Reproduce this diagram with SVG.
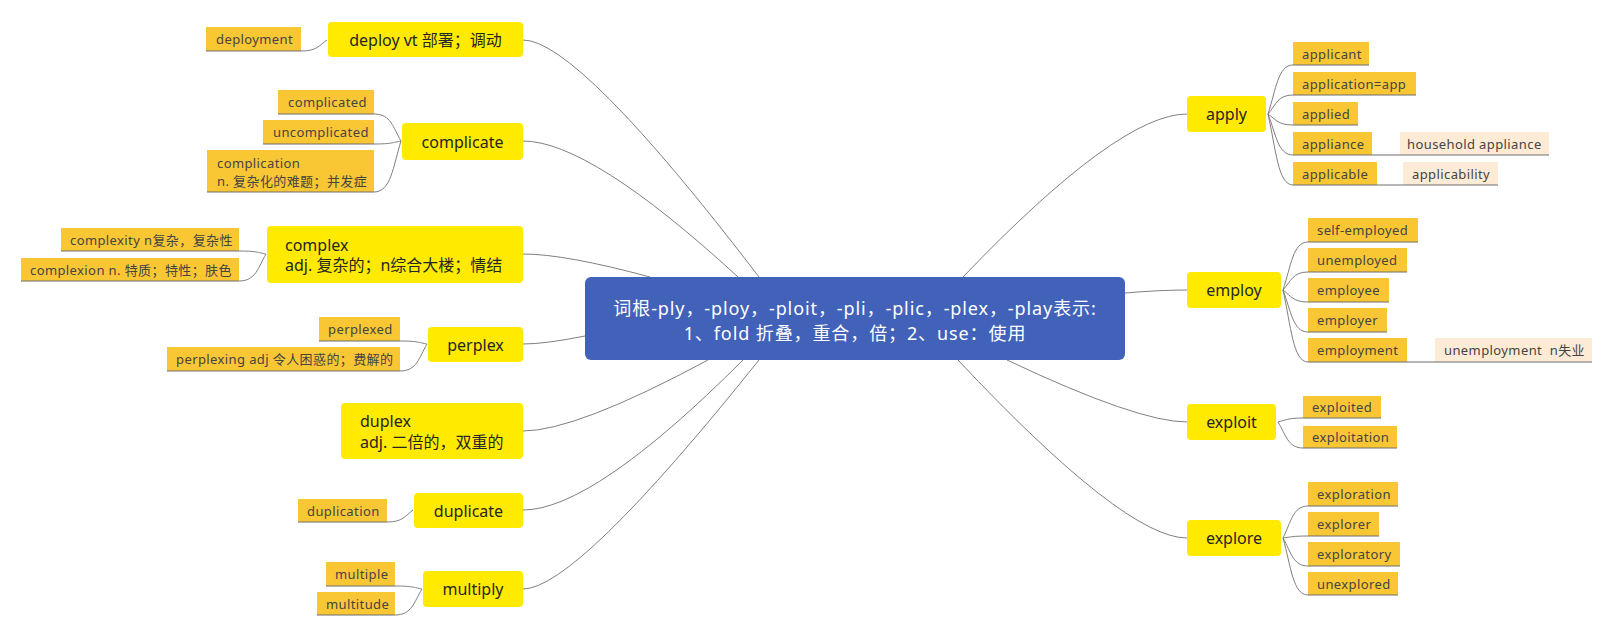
<svg xmlns="http://www.w3.org/2000/svg" width="1612" height="637" viewBox="0 0 1612 637">
<style>
.bg{fill:#ffffff}
.cn{fill:none;stroke:#808080;stroke-width:1}
.ul{stroke:#6e6e6e;stroke-width:1.2}
.main{fill:#FFEA00}
.sub{fill:#F9C734}
.gc{fill:#FDEBD6}
.ctr{fill:#4262BA}
.tm{font-family:"Noto Sans","Noto Sans CJK SC",sans-serif;font-size:16px;fill:#262626;dominant-baseline:central}
.ts{font-family:"Noto Sans","Noto Sans CJK SC",sans-serif;font-size:13px;fill:#444;letter-spacing:0.4px;dominant-baseline:central}
.tc{font-family:"Noto Sans","Noto Sans CJK SC",sans-serif;font-size:18px;fill:#ffffff;letter-spacing:0.9px;dominant-baseline:central;text-anchor:middle}
.mid{text-anchor:middle}
</style>
<rect class="bg" x="0" y="0" width="1612" height="637"/>
<g id="connectors">
<path class="cn" d="M759,277 Q578,40 523,40"/>
<path class="cn" d="M738,277 Q590,141 523,141"/>
<path class="cn" d="M650,277 Q565,254 523,254"/>
<path class="cn" d="M585,336 Q545,344 523,344"/>
<path class="cn" d="M708,360 Q576,431 523,431"/>
<path class="cn" d="M743,360 Q593,510 523,510"/>
<path class="cn" d="M759,360 Q576,589 523,589"/>
<path class="cn" d="M963,277 Q1119,114 1187,114"/>
<path class="cn" d="M1125,293 Q1160,290 1187,290"/>
<path class="cn" d="M1007,360 Q1138,422 1187,422"/>
<path class="cn" d="M958,360 Q1125,538 1187,538"/>
<path class="cn" d="M1268,114 C1276,89.5 1278,65 1293,65"/>
<path class="cn" d="M1268,114 C1276,104.5 1278,95 1293,95"/>
<path class="cn" d="M1268,114 C1276,119.5 1278,125 1293,125"/>
<path class="cn" d="M1268,114 C1276,134.5 1278,155 1293,155"/>
<path class="cn" d="M1268,114 C1276,149.5 1278,185 1293,185"/>
<path class="cn" d="M1283,290 C1291,266 1293,242 1308,242"/>
<path class="cn" d="M1283,290 C1291,281 1293,272 1308,272"/>
<path class="cn" d="M1283,290 C1291,296 1293,302 1308,302"/>
<path class="cn" d="M1283,290 C1291,311 1293,332 1308,332"/>
<path class="cn" d="M1283,290 C1291,326 1293,362 1308,362"/>
<path class="cn" d="M1278,422 C1286,420 1288,418 1303,418"/>
<path class="cn" d="M1278,422 C1286,435 1288,448 1303,448"/>
<path class="cn" d="M1283,538 C1291,522 1293,506 1308,506"/>
<path class="cn" d="M1283,538 C1291,537 1293,536 1308,536"/>
<path class="cn" d="M1283,538 C1291,552 1293,566 1308,566"/>
<path class="cn" d="M1283,538 C1291,566.5 1293,595 1308,595"/>
<path class="cn" d="M327,40 C319,45.5 317,51 301,51"/>
<path class="cn" d="M401,141 C393,127.5 391,114 374,114"/>
<path class="cn" d="M401,141 C393,142.5 391,144 374,144"/>
<path class="cn" d="M401,141 C393,166.5 391,192 374,192"/>
<path class="cn" d="M266,254 C258,252.5 256,251 239,251"/>
<path class="cn" d="M266,254 C258,267.5 256,281 239,281"/>
<path class="cn" d="M427,344 C419,342.5 417,341 400,341"/>
<path class="cn" d="M427,344 C419,357.5 417,371 400,371"/>
<path class="cn" d="M413,510 C405,516 403,522 387,522"/>
<path class="cn" d="M422,589 C414,587.5 412,586 395,586"/>
<path class="cn" d="M422,589 C414,602 412,615 395,615"/>
</g>
<g id="center">
<rect class="ctr" x="585" y="277" width="540" height="83" rx="6"/>
<text class="tc" x="855" y="308">词根-ply，-ploy，-ploit，-pli，-plic，-plex，-play表示:</text>
<text class="tc" x="855" y="333">1、fold 折叠，重合，倍；2、use：使用</text>
</g>
<g id="deploy">
<rect class="main" x="328" y="22" width="195" height="35" rx="4"/>
<text class="tm mid" x="425.5" y="39.5">deploy vt 部署；调动</text>
</g>
<g id="deployment">
<rect class="sub" x="206" y="27" width="95" height="24"/>
<line class="ul" x1="206" y1="51" x2="301" y2="51"/>
<text class="ts" x="216" y="39">deployment</text>
</g>
<g id="complicate">
<rect class="main" x="402" y="123" width="121" height="37" rx="4"/>
<text class="tm mid" x="462.5" y="141.5">complicate</text>
</g>
<g id="complicated">
<rect class="sub" x="278" y="90" width="96" height="24"/>
<line class="ul" x1="278" y1="114" x2="374" y2="114"/>
<text class="ts" x="288" y="102">complicated</text>
</g>
<g id="uncomplicated">
<rect class="sub" x="263" y="120" width="111" height="24"/>
<line class="ul" x1="263" y1="144" x2="374" y2="144"/>
<text class="ts" x="273" y="132">uncomplicated</text>
</g>
<g id="complication">
<rect class="sub" x="207" y="150" width="167" height="42"/>
<line class="ul" x1="207" y1="192" x2="374" y2="192"/>
<text class="ts" x="217" y="163">complication</text>
<text class="ts" x="217" y="181">n. 复杂化的难题；并发症</text>
</g>
<g id="complex">
<rect class="main" x="267" y="226" width="256" height="57" rx="4"/>
<text class="tm" x="285" y="245">complex</text>
<text class="tm" x="285" y="265">adj. 复杂的；n综合大楼；情结</text>
</g>
<g id="complexity">
<rect class="sub" x="61" y="228" width="178" height="23"/>
<line class="ul" x1="61" y1="251" x2="239" y2="251"/>
<text class="ts" x="70" y="239.5">complexity n复杂，复杂性</text>
</g>
<g id="complexion">
<rect class="sub" x="21" y="258" width="218" height="23"/>
<line class="ul" x1="21" y1="281" x2="239" y2="281"/>
<text class="ts" x="30" y="269.5">complexion n. 特质；特性；肤色</text>
</g>
<g id="perplex">
<rect class="main" x="428" y="327" width="95" height="35" rx="4"/>
<text class="tm mid" x="475.5" y="344.5">perplex</text>
</g>
<g id="perplexed">
<rect class="sub" x="319" y="317" width="81" height="24"/>
<line class="ul" x1="319" y1="341" x2="400" y2="341"/>
<text class="ts" x="328" y="329">perplexed</text>
</g>
<g id="perplexing">
<rect class="sub" x="167" y="347" width="233" height="24"/>
<line class="ul" x1="167" y1="371" x2="400" y2="371"/>
<text class="ts" x="176" y="359">perplexing adj 令人困惑的；费解的</text>
</g>
<g id="duplex">
<rect class="main" x="341" y="403" width="182" height="56" rx="4"/>
<text class="tm" x="360" y="421">duplex</text>
<text class="tm" x="360" y="442">adj. 二倍的，双重的</text>
</g>
<g id="duplicate">
<rect class="main" x="414" y="493" width="109" height="35" rx="4"/>
<text class="tm mid" x="468.5" y="510.5">duplicate</text>
</g>
<g id="duplication">
<rect class="sub" x="298" y="499" width="89" height="23"/>
<line class="ul" x1="298" y1="522" x2="387" y2="522"/>
<text class="ts" x="307" y="510.5">duplication</text>
</g>
<g id="multiply">
<rect class="main" x="423" y="571" width="100" height="36" rx="4"/>
<text class="tm mid" x="473" y="589">multiply</text>
</g>
<g id="multiple">
<rect class="sub" x="326" y="562" width="69" height="24"/>
<line class="ul" x1="326" y1="586" x2="395" y2="586"/>
<text class="ts" x="335" y="574">multiple</text>
</g>
<g id="multitude">
<rect class="sub" x="317" y="592" width="78" height="23"/>
<line class="ul" x1="317" y1="615" x2="395" y2="615"/>
<text class="ts" x="326" y="603.5">multitude</text>
</g>
<g id="apply">
<rect class="main" x="1187" y="96" width="79" height="36" rx="4"/>
<text class="tm mid" x="1226.5" y="114">apply</text>
</g>
<g id="applicant">
<rect class="sub" x="1293" y="42" width="76" height="23"/>
<line class="ul" x1="1293" y1="65" x2="1369" y2="65"/>
<text class="ts" x="1302" y="53.5">applicant</text>
</g>
<g id="application">
<rect class="sub" x="1293" y="72" width="123" height="23"/>
<line class="ul" x1="1293" y1="95" x2="1416" y2="95"/>
<text class="ts" x="1302" y="83.5">application=app</text>
</g>
<g id="applied">
<rect class="sub" x="1293" y="102" width="65" height="23"/>
<line class="ul" x1="1293" y1="125" x2="1358" y2="125"/>
<text class="ts" x="1302" y="113.5">applied</text>
</g>
<g id="appliance">
<rect class="sub" x="1293" y="132" width="79" height="23"/>
<rect class="gc" x="1400" y="132" width="149" height="23"/>
<line class="ul" x1="1293" y1="155" x2="1549" y2="155"/>
<text class="ts" x="1302" y="143.5">appliance</text>
<text class="ts" x="1407" y="143.5">household appliance</text>
</g>
<g id="applicable">
<rect class="sub" x="1293" y="162" width="84" height="23"/>
<rect class="gc" x="1403" y="162" width="95" height="23"/>
<line class="ul" x1="1293" y1="185" x2="1498" y2="185"/>
<text class="ts" x="1302" y="173.5">applicable</text>
<text class="ts" x="1412" y="173.5">applicability</text>
</g>
<g id="employ">
<rect class="main" x="1187" y="272" width="94" height="36" rx="4"/>
<text class="tm mid" x="1234" y="290">employ</text>
</g>
<g id="self-employed">
<rect class="sub" x="1308" y="218" width="110" height="24"/>
<line class="ul" x1="1308" y1="242" x2="1418" y2="242"/>
<text class="ts" x="1317" y="230">self-employed</text>
</g>
<g id="unemployed">
<rect class="sub" x="1308" y="248" width="99" height="24"/>
<line class="ul" x1="1308" y1="272" x2="1407" y2="272"/>
<text class="ts" x="1317" y="260">unemployed</text>
</g>
<g id="employee">
<rect class="sub" x="1308" y="278" width="81" height="24"/>
<line class="ul" x1="1308" y1="302" x2="1389" y2="302"/>
<text class="ts" x="1317" y="290">employee</text>
</g>
<g id="employer">
<rect class="sub" x="1308" y="308" width="79" height="24"/>
<line class="ul" x1="1308" y1="332" x2="1387" y2="332"/>
<text class="ts" x="1317" y="320">employer</text>
</g>
<g id="employment">
<rect class="sub" x="1308" y="338" width="99" height="24"/>
<rect class="gc" x="1435" y="338" width="157" height="24"/>
<line class="ul" x1="1308" y1="362" x2="1592" y2="362"/>
<text class="ts" x="1317" y="350">employment</text>
<text class="ts" x="1444" y="350" xml:space="preserve">unemployment  n失业</text>
</g>
<g id="exploit">
<rect class="main" x="1187" y="404" width="89" height="36" rx="4"/>
<text class="tm mid" x="1231.5" y="422">exploit</text>
</g>
<g id="exploited">
<rect class="sub" x="1303" y="396" width="78" height="22"/>
<line class="ul" x1="1303" y1="418" x2="1381" y2="418"/>
<text class="ts" x="1312" y="407">exploited</text>
</g>
<g id="exploitation">
<rect class="sub" x="1303" y="426" width="94" height="22"/>
<line class="ul" x1="1303" y1="448" x2="1397" y2="448"/>
<text class="ts" x="1312" y="437">exploitation</text>
</g>
<g id="explore">
<rect class="main" x="1187" y="520" width="94" height="36" rx="4"/>
<text class="tm mid" x="1234" y="538">explore</text>
</g>
<g id="exploration">
<rect class="sub" x="1308" y="482" width="90" height="24"/>
<line class="ul" x1="1308" y1="506" x2="1398" y2="506"/>
<text class="ts" x="1317" y="494">exploration</text>
</g>
<g id="explorer">
<rect class="sub" x="1308" y="512" width="71" height="24"/>
<line class="ul" x1="1308" y1="536" x2="1379" y2="536"/>
<text class="ts" x="1317" y="524">explorer</text>
</g>
<g id="exploratory">
<rect class="sub" x="1308" y="542" width="92" height="24"/>
<line class="ul" x1="1308" y1="566" x2="1400" y2="566"/>
<text class="ts" x="1317" y="554">exploratory</text>
</g>
<g id="unexplored">
<rect class="sub" x="1308" y="572" width="90" height="23"/>
<line class="ul" x1="1308" y1="595" x2="1398" y2="595"/>
<text class="ts" x="1317" y="583.5">unexplored</text>
</g>
</svg>
